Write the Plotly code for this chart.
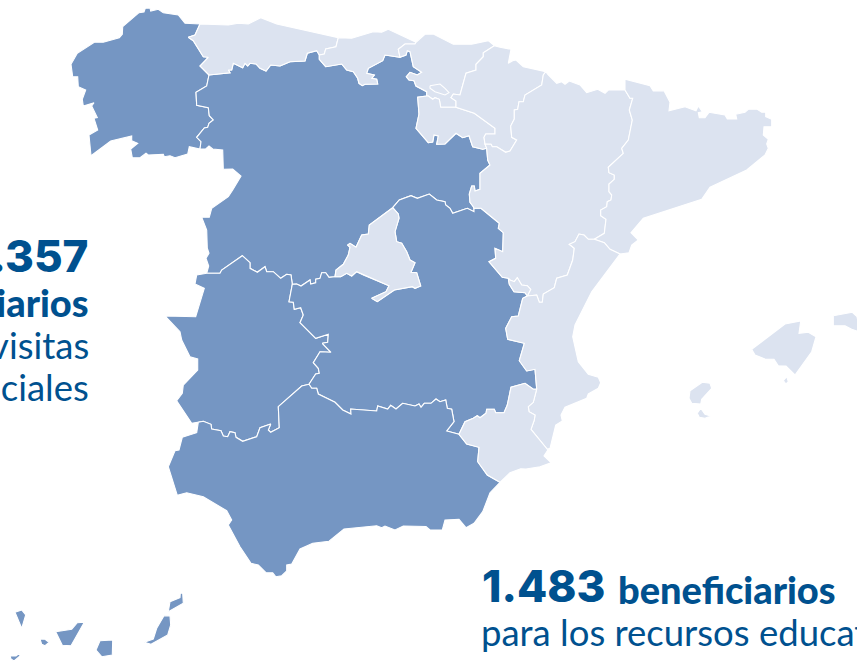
import plotly.graph_objects as go

DARK = "#7596C3"
LIGHT = "#DCE3F0"
INK = "#00518F"

GAL_AST = [(200,24),(195,35),(188.3,37.3),(193.3,40.7),(203.3,56.7),(208.3,57.3),(200,66),(209,75)]
GAL_CYL = [(209,75),(206.7,86),(196,92.3),(196.7,105.3),(208.3,107.7),(209.3,115.7),(213.3,120),(209,123.3),(207.7,127.3),(204.3,128),(196.7,137.3),(201,141.7),(200,149)]
GAL_COAST = [(200,149),(189.3,146.7),(187.7,154),(175,157.7),(170,155.7),(164.3,156.7),(163.3,154.3),(148.3,155),(146,153.3),(140,157.7),(132.3,157.7),(130.7,149),(137.7,143.3),(131.7,140.7),(131.7,136),(110.7,141),(91,155.7),(89,135),(97.7,130),(94,118.3),(97.3,117.7),(91.7,106),(94,102.7),(83.3,106),(82.3,99.3),(85.7,90),(78.3,86.7),(77.7,76.7),(72.7,76.7),(71,64.3),(77.3,53.3),(94.3,42.3),(103.3,42.3),(119.3,37.7),(122.3,34.3),(122.7,26.7),(139,12.7),(144,12),(145.3,8.3),(150,8),(150.7,11),(158.3,9.3),(163.3,12.7),(178.3,15),(185,23.3),(200,24)]
AST_COAST = [(200,24),(228.3,25),(238.3,23.3),(248.3,24),(260.7,17.7),(276.7,24),(338.3,37.7)]
AST_CNT = [(338.3,37.7),(336,46.7),(325.7,49),(324.3,54),(319.3,55)]
AST_CYL = [(209,75),(230,72.7),(228.3,70),(231.7,70),(233.3,63.3),(242.7,67.7),(245,63.3),(247.7,66),(250,63.3),(256,64),(260,68.3),(266,71),(270.7,65),(280,66),(290,61.7),(305,61),(307.3,53.3),(316.7,50.7),(319.3,55)]
CNT_COAST = [(338.3,37.7),(351.7,38.3),(373.3,31.7),(381.7,32.3),(388.3,29.3),(416,42.3)]
CNT_BAS = [(416,42.3),(415,44),(405,44),(398.3,49.3),(400,57.3)]
CNT_CYL = [(319.3,55),(319.3,59.3),(325.7,66.7),(341.7,64),(346.7,70),(353.3,71.7),(357.7,78.3),(359,83.3),(362.3,85.7),(365,84.3),(377.7,84),(376.7,79.3),(371.7,78.3),(374.3,75),(366.7,73.3),(368.3,68.3),(382.7,60.7),(385,55),(400,57.3)]
BAS_COAST = [(416,42.3),(425,34.3),(433.3,34),(453.3,44.3),(471.7,44.3),(488.3,40.7),(494.3,45.7)]
BAS_NAV = [(494.3,45.7),(483.3,52.7),(483.3,56.7),(476,64.3),(476,70),(466,73.3),(460,95),(453.3,94),(451,97.7),(456,101),(456,107.3)]
BAS_RIO = [(426.7,96),(428.3,96),(432.7,99.3),(435,97.7),(439.3,99.3),(440.7,107.3),(456,107.3)]
BAS_CYL = [(400,57.3),(406,55),(407.3,50.7),(410,51.7),(413.3,66.7),(421.7,72.3),(417.3,75),(410,72.3),(406.3,76.7),(409,80),(414,80.7),(416,86),(426.7,91.7),(426.7,96)]
TREVINO = [(430,85.7),(440,84),(445,88.3),(449,92.7),(445,95),(435,91.7),(430,88.3)]
RIO_NAV = [(456,107.3),(474.3,113.3),(495,128.3),(495,134),(485.7,134),(484,137.3),(485,144)]
RIO_ARA = [(485,144),(486.7,148.3)]
RIO_CYL = [(426.7,96),(417.7,97.3),(419,114),(416,128.3),(428.3,142.7),(432.7,142),(434,135),(438.3,136),(436.7,144.3),(445,144),(456,133.3),(462.7,137.7),(469,135.7),(472.7,146.7),(482.7,149.3),(486.7,148.3)]
NAV_COAST = [(494.3,45.7),(500,47.3),(511,49.3),(508.3,63.3),(512.7,60.7),(516,60),(523.3,66.7),(545.7,71.7)]
NAV_ARA = [(545.7,71.7),(543.3,75),(541.7,85),(525,95),(523.3,101.7),(519,101.7),(517.7,109.3),(514.3,110),(514.3,119),(510.7,126),(511.7,137.3),(516.7,140),(510,151),(505.7,152.3),(496.7,146.7),(492.3,146.7),(491,144.3),(485,144)]
ARA_N = [(545.7,71.7),(548.3,75),(556.7,83.3),(561.7,81.7),(565,84.3),(569.3,81),(580,85),(586.7,92.7),(597.7,89.3),(605,93.3),(608.3,90),(625,90)]
ARA_CAT = [(625,90),(630,98.3),(632.7,98.3),(629.3,110),(632.3,120),(628.3,140),(621.7,148.3),(623.3,153.3),(608.3,167.3),(609,172.7),(614.3,175),(614.3,179.3),(609,184),(609,191.7),(611.7,195),(611,200),(607.3,201.7),(606.7,206.7),(600.7,210),(600.7,215.7),(606,219.3),(604.3,233.3),(594.3,239.3)]
ARA_VAL = [(594.3,239.3),(588.3,239.3),(584,235),(579,234),(575,241.7),(569.3,244.3),(574.3,248.3),(572.7,260),(567.3,275),(556.7,278.3),(554.3,287.7),(543.3,294),(542.3,302.3),(539.3,302.3),(536.7,295),(527.3,296)]
ADEMUZ_ARA = [(527.3,296),(530.7,289.3),(527.3,285.7),(521.7,285),(517.3,277.7),(514.3,281.7),(510,280),(508.3,278.3)]
CYL_ARA = [(486.7,148.3),(487.7,160),(490,165),(480,173.3),(480,189.3),(475,191),(474.3,186),(471.7,186),(469.3,194),(470,202.3),(473.3,206.7),(474,208.3)]
CYL_CLM = [(474,208.3),(474,211.7),(467.3,208.3),(452.7,213.3),(450,208.3),(445.7,205),(445,201.7),(436.7,200),(429.3,194),(417.3,198.3),(411,195.7),(399.3,200),(392.7,207.7)]
CYL_MAD = [(392.7,207.7),(369.3,225),(368.3,234),(361.7,235),(356,247.3),(350,243.3),(347.7,245),(350,247.3),(348.3,255),(343.3,264.3),(336,270),(335,276.7)]
MAD_CLM = [(392.7,207.7),(398.3,214),(399,218.3),(395,231.7),(396.7,241.7),(401.7,243.3),(406.7,251.7),(410,260),(415,262.7),(411,272.3),(416.7,272.7),(420.7,286),(415,288.3),(412.3,286.7),(394.3,290),(377.3,301.7),(371.7,298.3),(386,291.7),(389,285.7),(363.3,275),(356.7,271.7),(351.7,276),(346.7,273.3),(340.7,276.7),(335,276.7)]
CYL_CLM2 = [(335,276.7),(329,277.3),(325.7,272.7),(321.7,272.7),(320,278.3),(315.7,279.3),(315.7,282.7),(310.7,284),(310,280),(301,286),(296.7,284),(292.3,284.3)]
CYL_EXT = [(292.3,284.3),(291,275),(286.7,274.3),(280.7,278.3),(273.3,271.7),(266.7,271.7),(265,266.7),(257.3,272.3),(250,268.3),(250,262.7),(242.3,255.7),(221.7,270),(220,273.3),(206.7,273.3)]
CYL_PT = [(206.7,273.3),(208.7,266),(206,258.3),(209,253.3),(207.3,248.3),(206.7,230),(201.7,217.3),(209.3,217.3),(211.7,208.3),(228.3,196.7),(232.7,190),(241,176),(232.7,169),(223.3,169.3),(222.7,150),(212.7,149),(209,146),(205.7,149),(200,149)]
EXT_PT = [(206.7,273.3),(196.7,275),(195,284),(204.3,288.3),(195.7,316.7),(165,316),(180,331.7),(181.7,340),(190,356.7),(197.7,359),(197.7,370),(183.3,385),(182.3,393.3),(176.7,400.7),(191.7,423.3),(198.3,422.3)]
AND_EXT = [(198.3,422.3),(203.3,421.3),(211,424.3),(211.7,429),(221,430.7),(223.3,436),(227.7,436.7),(230,431.7),(235,432.7),(236,437.3),(242.7,441.3),(256.7,436.7),(260,427.7),(270.7,424),(268.3,430),(270.7,432.3),(279.3,427.7),(278.3,406.7),(301.7,386),(309,384.3)]
EXT_CLM = [(309,384.3),(315.7,374),(319.3,373.3),(318.3,368.3),(313.3,362.7),(320,351.7),(331,352.3),(322.3,343.3),(327.7,342.3),(328.3,334.3),(315.7,338.3),(300,322.7),(303.3,315),(300.7,307.7),(294.3,309.3),(293.3,302.3),(289,301.7),(292.3,284.3)]
AND_CLM = [(459,434.3),(446.7,431),(454,421.7),(451.7,409.3),(447.3,408.3),(445.7,400),(440,401.7),(436,399),(431,403.3),(424.3,403.3),(421,407.3),(419,404),(415,406),(402.7,403.3),(396,409),(390.7,405.3),(387.7,409),(377.7,406),(376.7,411),(350.7,409),(351,414),(342.7,410),(335,402.3),(318.3,394),(316.7,388.3),(311.7,388.3),(309,384.3)]
AND_MUR = [(459,434.3),(466.7,444),(479,447.3),(477.7,461.7),(487.3,475),(500,482.3)]
AND_COAST = [(500,482.3),(490,492.7),(482.7,511.7),(474,523.3),(466,527.7),(459,519.3),(445,520),(442.3,530),(430,530),(426,526.5),(403.3,526),(395,530),(385,526),(381.7,527.7),(376.7,525.7),(355,527.7),(344,529),(329,541.3),(312.7,543.3),(300,549),(291.7,564),(286.7,565),(286.7,571),(281.7,575.7),(275.7,576.7),(272.7,572.7),(266,572.7),(258.3,565),(251,563.3),(240,546.7),(228.3,525),(231.7,520),(226.7,510.7),(203.3,496.7),(186.7,492.7),(177.3,495.3),(168.3,466.7),(175,450.7),(179,450),(182.3,437.3),(196.7,432.7),(198.3,422.3)]
CLM_ARA = [(474,208.3),(481,208.3),(499.3,223.3),(498.3,228.3),(503.3,232.7),(502.7,251.7),(495,248.3),(495.7,258.3),(489,261.7),(502.3,277.3),(508.3,278.3)]
CLM_VAL = [(508.3,278.3),(509.3,284.3),(514,291.7),(525,292.7),(527.3,296),(522.7,298.3),(518.3,316),(511.7,316.7),(505.7,328.3),(507.7,339.3),(524.3,343.3),(519.3,360.7),(526.7,371),(535,369.3),(536.7,389)]
MUR_CLM = [(536.7,389),(533.3,389.3),(525,383.3),(511,387.3),(507.3,405),(504,412.7),(495.7,412.7),(494.3,409.3),(486.7,409.3),(486,413.3),(480,417.7),(477.3,415.7),(473.3,418.3),(465,421.7),(459,434.3)]
MUR_VAL = [(536.7,389),(533.3,402.3),(528.3,406.7),(529,411.7),(535,415),(534.3,420),(531,429.3),(547.3,449.3),(548.3,449.3)]
MUR_COAST = [(548.3,449.3),(544,456),(551,462.7),(540,466.7),(526,469),(520.7,468.7),(510,472.7),(500,482.3)]
VAL_CAT = [(594.3,239.3),(604.3,242.7),(610,249.3),(620,254)]
VAL_COAST = [(620,254),(591.7,291.7),(575,325),(572.7,336.7),(578.3,361.7),(588.3,374.3),(598.3,377.3),(600.7,382.7),(598.3,388.3),(588.3,394),(586.7,398.3),(565,407.3),(561,415),(562.3,421),(555.7,425),(550,448.3),(548.3,449.3)]
CAT_N = [(625,90),(625,79.3),(650,85.7),(653.3,91),(664,90.7),(670,102.3),(669,110.7),(685,106.7),(696,110.7),(698.3,106),(702.3,111.7),(698.3,112.7),(699.3,117.7),(705,117.7),(709,112.3),(725,115),(727.3,119),(736.7,119),(735.7,114.3),(745,112.3),(748.3,109.3),(757.3,109.3),(761.7,112.3),(765.7,112.3),(765.7,116.7),(771.7,119.3),(771.7,126.7),(764,126.7),(763.3,135),(768.3,139.3),(766.7,144),(768.3,148.3),(765,155),(746.7,170),(710,187.3),(701.7,199.3),(643.3,218.3),(631,232.7),(638.3,240),(631.7,245),(629,252.7),(620,254)]

MALLORCA = [(751.7,349.3),(785,324),(800.7,321),(799,333.3),(808.3,332.3),(816,336.7),(811.7,351.7),(795,375),(786,366),(778.3,365.7),(774,359.3),(765,359),(755,355)]
CABRERA = [(783.3,380.7),(786.7,376.7),(788.3,381.7),(786,384)]
MENORCA = [(833.3,315.7),(852.3,312.3),(857,316.7),(860,332),(851.7,329.3),(845,325.7),(833.3,325.7)]
IBIZA = [(690,390.7),(702.3,382.3),(710,383.3),(711.7,388.3),(701.7,399.3),(700.7,404),(691.7,403.3),(689,398.3)]
FORMENTERA = [(697.3,413.3),(700.7,408.3),(705,414.3),(710.7,416),(705,418.3),(699.3,417.3)]
LA_PALMA = [(15,612.3),(21.7,610),(25.7,615),(21.7,628.3)]
GOMERA = [(40,639),(45,639.3),(49,642.3),(45,645.7),(41.7,644.3)]
HIERRO = [(10,656),(16,656),(19.3,653.3),(20,656),(14,661),(11,659)]
TENERIFE = [(55.7,631.7),(71.7,629.3),(77.3,622.7),(84.3,622.3),(71,645.7),(62.3,645.3)]
GRAN_CANARIA = [(100,640.7),(112.7,640),(112.3,655),(101.7,656.7),(96,650)]
FUERTEVENTURA = [(144.3,642.3),(153.3,639),(156.7,628.3),(164,615.7),(170,616),(170.7,625),(167.7,635),(151,644.3)]
LANZAROTE = [(168.3,611.7),(170,601.7),(180,597.7),(180.3,593.3),(182.7,593.3),(183.3,603.3)]

def rev(s):
    return s[::-1]

LIGHT_REGIONS = {
    "Asturias": AST_COAST + AST_CNT + rev(AST_CYL) + rev(GAL_AST),
    "Cantabria": CNT_COAST + CNT_BAS + rev(CNT_CYL) + rev(AST_CNT),
    "País Vasco": BAS_COAST + BAS_NAV + rev(BAS_RIO) + rev(BAS_CYL) + rev(CNT_BAS),
    "Treviño": TREVINO,
    "La Rioja": BAS_RIO + RIO_NAV + RIO_ARA + rev(RIO_CYL),
    "Navarra": NAV_COAST + NAV_ARA + rev(RIO_NAV) + rev(BAS_NAV),
    "Aragón": ARA_N + ARA_CAT + ARA_VAL + ADEMUZ_ARA + rev(CLM_ARA) + rev(CYL_ARA) + rev(RIO_ARA) + rev(NAV_ARA),
    "Cataluña": CAT_N + rev(VAL_CAT) + rev(ARA_CAT),
    "Valencia": VAL_CAT + VAL_COAST + rev(MUR_VAL) + rev(CLM_VAL) + rev(ADEMUZ_ARA) + rev(ARA_VAL),
    "Murcia": MUR_COAST + rev(AND_MUR) + rev(MUR_CLM) + MUR_VAL,
    "Mallorca": MALLORCA, "Cabrera": CABRERA, "Menorca": MENORCA,
    "Ibiza": IBIZA, "Formentera": FORMENTERA,
}
DARK_REGIONS = {
    "Galicia": GAL_AST + GAL_CYL + GAL_COAST,
    "Castilla y León": AST_CYL + CNT_CYL + BAS_CYL + RIO_CYL + CYL_ARA + CYL_CLM + CYL_MAD + CYL_CLM2 + CYL_EXT + CYL_PT + rev(GAL_CYL),
    "Extremadura": EXT_PT + AND_EXT + EXT_CLM + CYL_EXT,
    "Castilla-La Mancha": rev(CYL_CLM) + CLM_ARA + CLM_VAL + MUR_CLM + AND_CLM + EXT_CLM + rev(CYL_CLM2) + rev(MAD_CLM),
    "Andalucía": AND_EXT + rev(AND_CLM) + AND_MUR + AND_COAST,
    "La Palma": LA_PALMA, "La Gomera": GOMERA, "El Hierro": HIERRO, "Tenerife": TENERIFE,
    "Gran Canaria": GRAN_CANARIA, "Fuerteventura": FUERTEVENTURA, "Lanzarote": LANZAROTE,
}
MADRID = {"Madrid": MAD_CLM + rev(CYL_MAD)}

fig = go.Figure()
for regions, colour in ((DARK_REGIONS, DARK), (LIGHT_REGIONS, LIGHT), (MADRID, LIGHT)):
    for name, pts in regions.items():
        fig.add_trace(go.Scatter(
            x=[p[0] for p in pts] + [pts[0][0]],
            y=[p[1] for p in pts] + [pts[0][1]],
            name=name, mode="lines", fill="toself", fillcolor=colour,
            line=dict(color="white", width=1.1), hoverinfo="skip", showlegend=False,
        ))

def label(text, x, y, size, anchor, weight, family="Lato"):
    fig.add_annotation(text=text, x=x, y=y, xref="x", yref="y", xanchor=anchor, yanchor="middle",
                       showarrow=False, align=anchor, borderpad=0,
                       font=dict(family=family, size=size, color=INK, weight=weight))

label("1.357", 89, 256, 44, "right", 800, "Inter")
label("beneficiarios", 90, 302, 38, "right", 900)
label("para las visitas", 90, 345, 36.5, "right", 400)
label("presenciales", 90, 387, 36.5, "right", 400)
label("1.483", 481, 586, 44, "left", 800, "Inter")
label("beneficiarios", 617, 589, 38, "left", 900)
label("para los recursos educativos", 480, 632, 36.5, "left", 400)

fig.update_xaxes(range=[0, 857], visible=False, fixedrange=True)
fig.update_yaxes(range=[661, 0], visible=False, fixedrange=True)
fig.update_layout(width=857, height=661, margin=dict(l=0, r=0, t=0, b=0),
                  plot_bgcolor="white", paper_bgcolor="white", showlegend=False)
fig.write_html("out.html", config=dict(displayModeBar=False),
               post_script="document.body.style.margin='0';document.body.style.overflow='hidden';")
